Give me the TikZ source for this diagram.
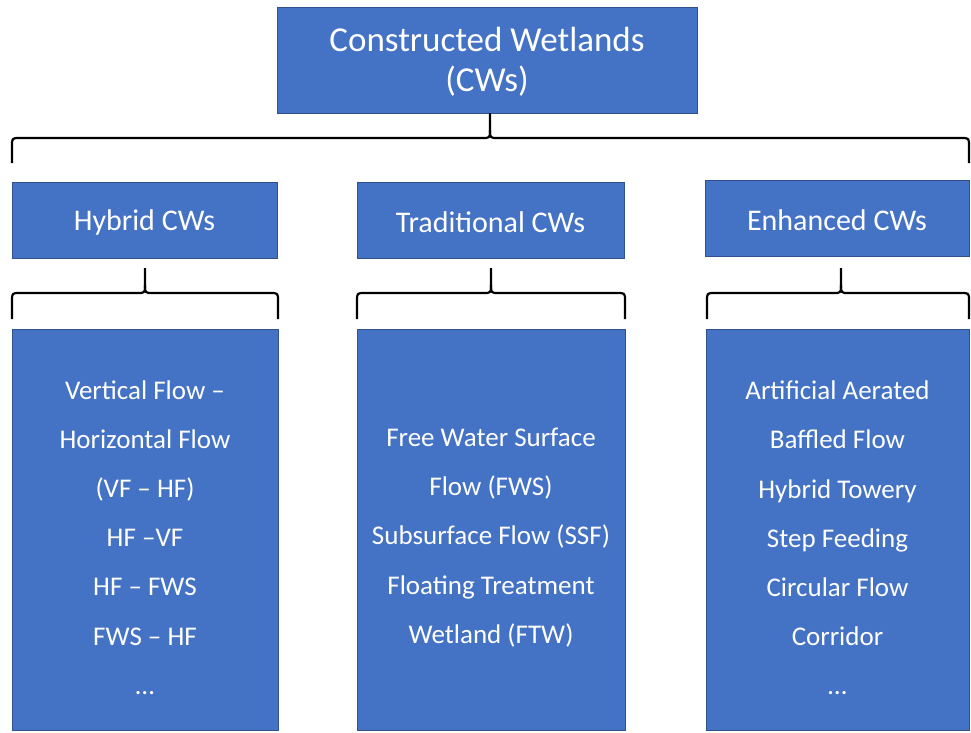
\documentclass[tikz,border=0pt]{standalone}
\usepackage{fontspec}
\setmainfont{Carlito}
\definecolor{boxfill}{HTML}{4472C4}
\definecolor{boxline}{HTML}{2F528F}
\tikzset{
  cwbox/.style={draw=boxline, fill=boxfill, line width=0.9pt, inner sep=0pt, text=white},
  cwtext/.style={text=white, align=center, inner sep=0pt},
  bracestyle/.style={draw=black, line width=2.2pt, line join=round},
}
% brace: x1, xc, x2, ytip, ymid, ybottom, radius
\newcommand{\cwbrace}[7]{%
  \draw[bracestyle] (#1,#6) -- (#1,#5+#7) .. controls (#1,#5) .. (#1+#7,#5)
    -- (#2-#7,#5) .. controls (#2,#5) .. (#2,#5-#7) -- (#2,#4);
  \draw[bracestyle] (#2,#5-#7) .. controls (#2,#5) .. (#2+#7,#5)
    -- (#3-#7,#5) .. controls (#3,#5) .. (#3,#5+#7) -- (#3,#6);
}
\begin{document}
\begin{tikzpicture}[x=1pt,y=-1pt]
\useasboundingbox (0,0) rectangle (971,732);
% top
\node[cwbox, minimum width=420pt, minimum height=106pt] (top) at (487,60) {};
\node[cwtext, font=\fontsize{35}{40}\selectfont] (topt) at ([yshift=-2pt]top.center) {Constructed Wetlands\\(CWs)};
% category boxes
\node[cwbox, minimum width=265pt, minimum height=76pt] (hyb) at (144.5,220) {};
\node[cwbox, minimum width=267pt, minimum height=76pt] (tra) at (490.5,220) {};
\node[cwbox, minimum width=264pt, minimum height=76pt] (enh) at (837,218) {};
\node[cwtext, font=\fontsize{30}{34}\selectfont] (hybh) at ([yshift=-2.5pt]hyb.center) {Hybrid CWs};
\node[cwtext, font=\fontsize{30}{34}\selectfont] (trah) at ([yshift=-2.5pt]tra.center) {Traditional CWs};
\node[cwtext, font=\fontsize{30}{34}\selectfont] (enhh) at ([yshift=-2.5pt]enh.center) {Enhanced CWs};
% list boxes
\node[cwbox, minimum width=266pt, minimum height=401pt] (hybl) at (145,529.5) {};
\node[cwbox, minimum width=268pt, minimum height=401pt] (tral) at (491,529.5) {};
\node[cwbox, minimum width=263pt, minimum height=401pt] (enhl) at (837.5,529.5) {};
\node[cwtext, font=\fontsize{27}{49.2}\selectfont] (hybt) at ([yshift=-8pt]hybl.center) {Vertical Flow --\\Horizontal Flow\\(VF -- HF)\\HF --VF\\HF -- FWS\\FWS -- HF\\\dots};
\node[cwtext, font=\fontsize{27}{49.2}\selectfont] (trat) at ([yshift=-8pt]tral.center) {Free Water Surface\\Flow (FWS)\\Subsurface Flow (SSF)\\Floating Treatment\\Wetland (FTW)};
\node[cwtext, font=\fontsize{27}{49.2}\selectfont] (enht) at ([yshift=-8.5pt]enhl.center) {Artificial Aerated\\Baffled Flow\\Hybrid Towery\\Step Feeding\\Circular Flow\\Corridor\\\dots};
% braces
\cwbrace{12}{490}{969}{113}{138}{163}{8}
\cwbrace{12}{145}{278}{268}{293}{319}{8}
\cwbrace{357}{491}{625}{268}{293}{319}{8}
\cwbrace{707}{841}{969}{268}{293}{319}{8}
\end{tikzpicture}
\end{document}
